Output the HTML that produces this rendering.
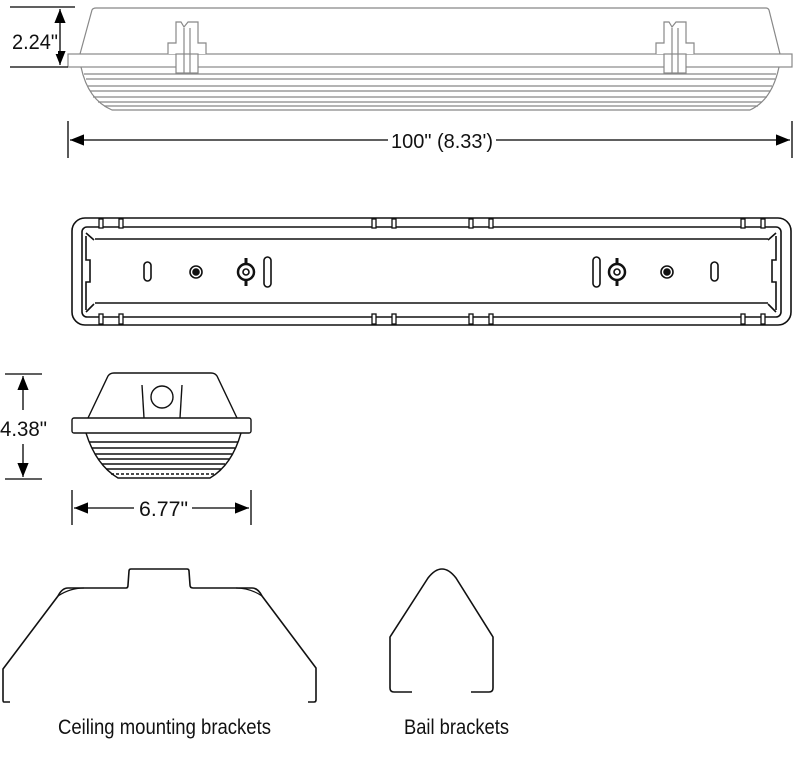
<!DOCTYPE html>
<html><head><meta charset="utf-8"><style>
html,body{margin:0;padding:0;background:#fff;}
svg{display:block;}
text{font-family:"Liberation Sans",sans-serif;fill:#111;}
</style></head><body>
<svg width="800" height="775" viewBox="0 0 800 775" xmlns="http://www.w3.org/2000/svg">
<defs>
<marker id="ahb" viewBox="0 0 10 10" refX="10" refY="5" markerWidth="14" markerHeight="14" orient="auto-start-reverse" markerUnits="userSpaceOnUse">
<path d="M0,1 L10,5 L0,9 z" fill="#000"/></marker>
</defs>

<g fill="none" stroke="#888" stroke-width="1.2">
<path d="M80,54 L92,10 Q93,8 96,8 L766,8 Q768,8 769,10 L780,54"/>
<rect x="68" y="54" width="724" height="13" fill="#fff"/>
<path d="M81,67 Q88,100 112,110 L750,110 Q772,100 779,67"/>
<line x1="84" y1="74" x2="776" y2="74"/>
<line x1="86" y1="79" x2="775" y2="79"/>
<line x1="88" y1="86" x2="772" y2="86"/>
<line x1="90" y1="91" x2="770" y2="91"/>
<line x1="93" y1="97" x2="767" y2="97"/>
<line x1="98" y1="102" x2="762" y2="102"/>
<line x1="104" y1="106" x2="758" y2="106"/>
<path d="M168,54 L168,43 L176,43 L176,22 L181,22 L184,27 L188,22 L198,22 L198,43 L206,43 L206,54" fill="#fff"/>
<rect x="176" y="54" width="22" height="19" fill="#fff"/>
<line x1="184" y1="28" x2="184" y2="73"/><line x1="190" y1="28" x2="190" y2="73"/>
<path d="M656,54 L656,43 L664,43 L664,22 L669,22 L672,27 L676,22 L686,22 L686,43 L694,43 L694,54" fill="#fff"/>
<rect x="664" y="54" width="22" height="19" fill="#fff"/>
<line x1="672" y1="28" x2="672" y2="73"/><line x1="678" y1="28" x2="678" y2="73"/>
</g>
<g stroke="#000" stroke-width="1.3" fill="none">
<line x1="10" y1="7" x2="75" y2="7"/><line x1="10" y1="67" x2="68" y2="67"/>
<line x1="60" y1="9" x2="60" y2="65" marker-start="url(#ahb)" marker-end="url(#ahb)"/>
<line x1="68" y1="121" x2="68" y2="158"/><line x1="792" y1="121" x2="792" y2="158"/>
<line x1="70" y1="140" x2="388" y2="140" marker-start="url(#ahb)"/>
<line x1="496" y1="140" x2="790" y2="140" marker-end="url(#ahb)"/>
</g>
<rect x="10" y="28" width="48" height="26" fill="#fff"/>
<text x="12" y="49" font-size="21" textLength="46" lengthAdjust="spacingAndGlyphs">2.24"</text>
<text x="391" y="148" font-size="20" textLength="102" lengthAdjust="spacingAndGlyphs">100" (8.33')</text>

<g fill="none" stroke="#111" stroke-width="1.6">
<rect x="72" y="218" width="719" height="107" rx="13"/>
<rect x="82" y="227" width="699" height="90" rx="5"/>
<line x1="95" y1="239" x2="768" y2="239"/><line x1="95" y1="303" x2="768" y2="303"/>
<path d="M86,236 L86,260 L90,260 L90,282 L86,282 L86,310"/>
<path d="M776,236 L776,260 L772,260 L772,282 L776,282 L776,310"/>
<line x1="86" y1="233" x2="94" y2="240"/><line x1="86" y1="312" x2="94" y2="304"/>
<line x1="776" y1="233" x2="768" y2="240"/><line x1="776" y1="312" x2="768" y2="304"/>
<rect x="144" y="262" width="7" height="19" rx="3.5"/>
<rect x="264" y="257" width="7" height="30" rx="3.5"/>
<rect x="711" y="262" width="7" height="19" rx="3.5"/>
<rect x="593" y="257" width="7" height="30" rx="3.5"/>
<circle cx="196" cy="272" r="6"/><circle cx="196" cy="272" r="3" fill="#111"/>
<circle cx="667" cy="272" r="6"/><circle cx="667" cy="272" r="3" fill="#111"/>
<circle cx="246" cy="272" r="8" stroke-width="2.5"/><circle cx="246" cy="272" r="3"/>
<line x1="246" y1="258" x2="246" y2="264" stroke-width="3"/><line x1="246" y1="280" x2="246" y2="286" stroke-width="3"/>
<circle cx="617" cy="272" r="8" stroke-width="2.5"/><circle cx="617" cy="272" r="3"/>
<line x1="617" y1="258" x2="617" y2="264" stroke-width="3"/><line x1="617" y1="280" x2="617" y2="286" stroke-width="3"/>
</g>
<g fill="#fff" stroke="#111" stroke-width="1.3">
<rect x="99" y="219" width="4" height="9"/><rect x="119" y="219" width="4" height="9"/>
<rect x="372" y="219" width="4" height="9"/><rect x="392" y="219" width="4" height="9"/>
<rect x="469" y="219" width="4" height="9"/><rect x="489" y="219" width="4" height="9"/>
<rect x="741" y="219" width="4" height="9"/><rect x="761" y="219" width="4" height="9"/>
<rect x="99" y="314" width="4" height="10"/><rect x="119" y="314" width="4" height="10"/>
<rect x="372" y="314" width="4" height="10"/><rect x="392" y="314" width="4" height="10"/>
<rect x="469" y="314" width="4" height="10"/><rect x="489" y="314" width="4" height="10"/>
<rect x="741" y="314" width="4" height="10"/><rect x="761" y="314" width="4" height="10"/>
</g>

<g fill="none" stroke="#111" stroke-width="1.4">
<path d="M88,418 L108,376 Q110,373 114,373 L211,373 Q215,373 217,376 L237,418"/>
<rect x="72" y="418" width="179" height="15" rx="2" fill="#fff"/>
<path d="M86,433 Q96,465 118,478 L210,478 Q232,465 241,433"/>
<line x1="89" y1="442" x2="238" y2="442"/>
<line x1="92" y1="448" x2="235" y2="448"/>
<line x1="95" y1="454" x2="232" y2="454"/>
<line x1="98" y1="459" x2="229" y2="459"/>
<line x1="102" y1="464" x2="225" y2="464"/>
<line x1="106" y1="469" x2="221" y2="469"/>
<line x1="111" y1="474" x2="216" y2="474" stroke-dasharray="3,2"/>
<circle cx="162" cy="397" r="11"/>
<line x1="142" y1="385" x2="144" y2="418"/><line x1="182" y1="385" x2="180" y2="418"/>
</g>
<g stroke="#000" stroke-width="1.3" fill="none">
<line x1="5" y1="374" x2="42" y2="374"/><line x1="5" y1="479" x2="42" y2="479"/>
<line x1="23" y1="376" x2="23" y2="410" marker-start="url(#ahb)"/>
<line x1="23" y1="444" x2="23" y2="477" marker-end="url(#ahb)"/>
<line x1="72" y1="490" x2="72" y2="525"/><line x1="251" y1="490" x2="251" y2="525"/>
<line x1="74" y1="508" x2="134" y2="508" marker-start="url(#ahb)"/>
<line x1="192" y1="508" x2="249" y2="508" marker-end="url(#ahb)"/>
</g>
<text x="0" y="436" font-size="21" textLength="47" lengthAdjust="spacingAndGlyphs">4.38"</text>
<text x="139" y="516" font-size="21" textLength="49" lengthAdjust="spacingAndGlyphs">6.77"</text>

<g fill="none" stroke="#111" stroke-width="1.6" stroke-linejoin="round">
<path d="M10,702 L4,702 Q3,702 3,700 L3,669 L58,596 Q62,588 68,588 L126,588 Q128,588 128,585 L129,571 Q129,569 131,569 L187,569 Q189,569 189,571 L190,585 Q190,588 193,588 L252,588 Q258,588 262,596 L316,668 L316,700 Q316,702 314,702 L308,702"/>
<path d="M58,596 Q70,588 84,588 M262,596 Q250,588 236,588" stroke-width="1.2"/>
<path d="M412,692 L394,692 Q390,692 390,688 L390,637 L428,578 Q442,560 456,578 L493,637 L493,688 Q493,692 489,692 L471,692"/>
</g>
<text x="58" y="734" font-size="21" textLength="213" lengthAdjust="spacingAndGlyphs">Ceiling mounting brackets</text>
<text x="404" y="734" font-size="21" textLength="105" lengthAdjust="spacingAndGlyphs">Bail brackets</text>
</svg>
</body></html>
